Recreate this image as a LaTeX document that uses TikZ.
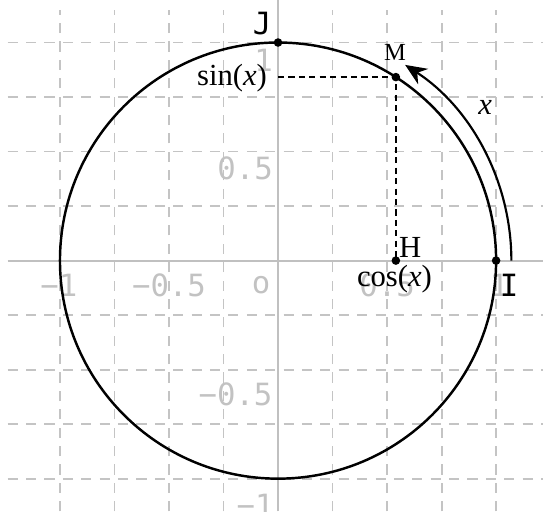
\documentclass[tikz,border=0pt]{standalone}
\usepackage{fontspec}
\setmainfont{Liberation Serif}
\setmonofont{DejaVu Sans Mono}
\usepackage{tikz}
\usetikzlibrary{arrows.meta}
\definecolor{GridGray}{HTML}{C4C4C4}
\definecolor{AxisGray}{HTML}{C0C0C0}
\definecolor{TickGray}{HTML}{C2C2C2}

\begin{document}
\begin{tikzpicture}[x=2.5cm,y=2.5cm,
  gridline/.style={GridGray,line width=0.6pt,dash pattern=on 3.3pt off 2.7pt},
  ticklab/.style={TickGray,font=\ttfamily,inner sep=0pt},
  pt/.style={circle,fill=black,inner sep=0pt,minimum size=2.8pt},
  lab/.style={inner sep=0pt}]
  \useasboundingbox (-1.275,-1.15) rectangle (1.215,1.195);
  % grid and axes
  \foreach \k in {-1,-0.75,-0.5,-0.25,0.25,0.5,0.75,1}{
    \draw[gridline] (\k,-1.15) -- (\k,1.147);
    \draw[gridline] (-1.24,\k) -- (1.215,\k);
  }
  \draw[AxisGray,line width=0.7pt] (-1.24,0) -- (1.215,0);
  \draw[AxisGray,line width=0.7pt] (0,-1.15) -- (0,1.195);
  \node[ticklab] (xm1) at (-1.005,-0.115) {−1};
  \node[ticklab] (xmh) at (-0.5,-0.115) {−0.5};
  \node[ticklab] (orig) at (-0.078,-0.113) {o};
  \node[ticklab] (xph) at (0.5,-0.115) {0.5};
  \node[ticklab] (xp1) at (1.014,-0.115) {1};
  \node[ticklab] (yp1) at (-0.066,0.917) {1};
  \node[ticklab] (yph) at (-0.151,0.422) {0.5};
  \node[ticklab] (ymh) at (-0.195,-0.615) {−0.5};
  \node[ticklab] (ym1) at (-0.105,-1.12) {−1};
  % circle and points
  \coordinate (O) at (0,0);
  \draw[line width=0.8pt] (O) circle (1);
  \node[pt] (J) at (0,1) {};
  \node[pt] (I) at (1,0) {};
  \node[pt] (M) at ({cos(deg(1))},{sin(deg(1))}) {};
  \node[pt] (H) at ({cos(deg(1))},0) {};
  \coordinate (S) at (0,{sin(deg(1))});
  \draw[line width=0.45pt,dash pattern=on 2pt off 1.4pt] (S) -- (M.center) -- (H.center);
  \draw[line width=0.7pt,-{Stealth[length=7pt,width=6pt]}] (1.07,0) arc[start angle=0,end angle=57,radius=1.07];
  % labels
  \node[lab,font=\ttfamily] (Jlab) at (-0.073,1.087) {J};
  \node[lab,font=\footnotesize] (Mlab) at (0.537,0.954) {M};
  \node[lab] (Hlab) at (0.606,0.06) {H};
  \node[lab] (Ilab) at (1.06,-0.115) {\ttfamily I};
  \node[lab] (coslab) at (0.534,-0.083) {cos(\textit{x})};
  \node[lab] (sinlab) at (-0.211,0.839) {sin(\textit{x})};
  \node[lab] (xlab) at (0.95,0.70) {\textit{x}};
\end{tikzpicture}
\end{document}
